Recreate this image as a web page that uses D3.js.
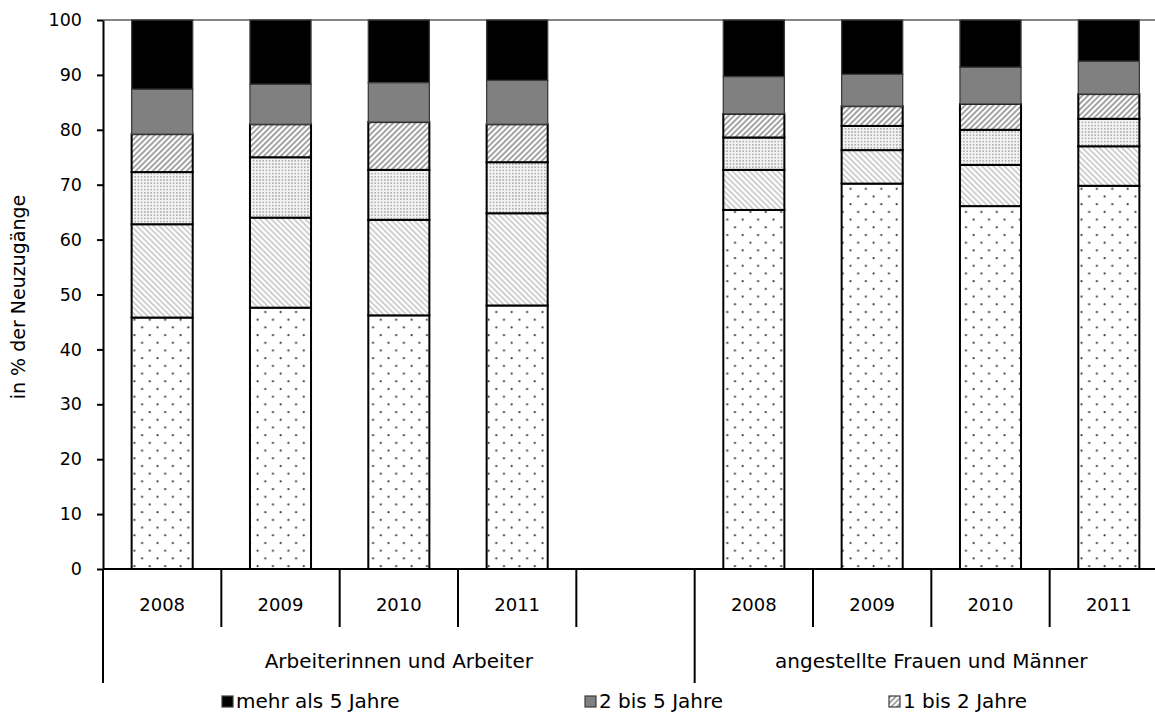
<!DOCTYPE html>
<html>
<head>
<meta charset="utf-8">
<script src="https://cdn.jsdelivr.net/npm/d3@7"></script>
<style>
  body { margin: 0; background: #fff; }
  svg { display: block; }
  text { font-family: "DejaVu Sans", sans-serif; fill: #000; }
</style>
</head>
<body>
<svg id="chart" width="1155" height="718"></svg>
<script>
// ---- data -------------------------------------------------------------
const groups = ["Arbeiterinnen und Arbeiter", "angestellte Frauen und Männer"];
const years = ["2008", "2009", "2010", "2011"];
const yTicks = [0, 10, 20, 30, 40, 50, 60, 70, 80, 90, 100];

// stacked from bottom to top; each array: Arbeiter 2008–2011, Angestellte 2008–2011
const seriesNames = ["bis 3 Monate", "3 bis 6 Monate", "6 Monate bis 1 Jahr",
                     "1 bis 2 Jahre", "2 bis 5 Jahre", "mehr als 5 Jahre"];
const bis3Monate      = [45.8, 47.6, 46.2, 48.0, 65.4, 70.2, 66.1, 69.8];
const monate3bis6     = [17.0, 16.4, 17.4, 16.8,  7.3,  6.1,  7.5,  7.2];
const monate6bisJahr1 = [ 9.5, 11.0,  9.1,  9.3,  5.9,  4.4,  6.4,  5.0];
const jahre1bis2      = [ 6.9,  6.0,  8.7,  6.9,  4.3,  3.6,  4.7,  4.5];
const jahre2bis5      = [ 8.2,  7.3,  7.2,  8.0,  6.8,  5.8,  6.7,  6.0];
const mehrAls5        = [12.6, 11.7, 11.4, 11.0, 10.3,  9.9,  8.6,  7.5];
const seriesValues = [bis3Monate, monate3bis6, monate6bisJahr1, jahre1bis2, jahre2bis5, mehrAls5];

// legend entries shown in the first legend row
const legendItems = ["mehr als 5 Jahre", "2 bis 5 Jahre", "1 bis 2 Jahre"];

// ---- layout -----------------------------------------------------------
const svg = d3.select("#chart");
const plot = { left: 103, right: 1168, top: 20, bottom: 569 };

// category slots: four years per group, plus one empty slot closing the first group
const slots = [];
years.forEach(yr => slots.push({ key: "0-" + yr, group: 0, year: yr }));
slots.push({ key: "0-leer", group: 0, year: "" });
years.forEach(yr => slots.push({ key: "1-" + yr, group: 1, year: yr }));

const rows = [];
slots.forEach(s => {
  if (s.year === "") return;
  const idx = s.group * years.length + years.indexOf(s.year);
  const row = { key: s.key };
  seriesNames.forEach((n, i) => row[n] = seriesValues[i][idx]);
  rows.push(row);
});

const x = d3.scaleBand().domain(slots.map(s => s.key)).range([plot.left, plot.right]).padding(0);
const y = d3.scaleLinear().domain([0, 100]).range([plot.bottom, plot.top]);
const barW = x.bandwidth() * 0.516;

// ---- fill patterns ----------------------------------------------------
const defs = svg.append("defs");
function stripes(id, angle, color, w) {
  const p = defs.append("pattern").attr("id", id).attr("patternUnits", "userSpaceOnUse")
    .attr("width", 4).attr("height", 4).attr("patternTransform", `rotate(${angle})`);
  p.append("rect").attr("width", 4).attr("height", 4).attr("fill", "#fff");
  p.append("rect").attr("width", w).attr("height", 4).attr("fill", color);
}
{
  const p = defs.append("pattern").attr("id", "pat-sparse").attr("patternUnits", "userSpaceOnUse")
    .attr("width", 15.4).attr("height", 15.4);
  p.append("rect").attr("width", 15.4).attr("height", 15.4).attr("fill", "#fff");
  p.append("circle").attr("cx", 3.5).attr("cy", 4).attr("r", 1.1).attr("fill", "#3a3a3a");
  p.append("circle").attr("cx", 11.2).attr("cy", 11.7).attr("r", 1.1).attr("fill", "#3a3a3a");
}
stripes("pat-back", -45, "#c6c6c6", 1.6);
{
  const p = defs.append("pattern").attr("id", "pat-fine").attr("patternUnits", "userSpaceOnUse")
    .attr("width", 3.2).attr("height", 3.2);
  p.append("rect").attr("width", 3.2).attr("height", 3.2).attr("fill", "#f2f2f2");
  p.append("rect").attr("width", 1.6).attr("height", 1.6).attr("fill", "#b0b0b0");
}
stripes("pat-fwd", 45, "#9a9a9a", 1.8);

const fills = ["url(#pat-sparse)", "url(#pat-back)", "url(#pat-fine)", "url(#pat-fwd)", "#808080", "#000000"];
const strokes = ["#000", "#000", "#000", "#000", "#3c3c3c", "#3c3c3c"];
const strokeW = [2, 2, 2, 2, 1.3, 1.3];
const fillOf = d3.scaleOrdinal().domain(seriesNames).range(fills);

// ---- top gridline -----------------------------------------------------
svg.append("line")
  .attr("x1", plot.left).attr("x2", plot.right)
  .attr("y1", y(100)).attr("y2", y(100))
  .attr("stroke", "#868686").attr("stroke-width", 2);

// ---- bars -------------------------------------------------------------
const stacked = d3.stack().keys(seriesNames)(rows);
svg.append("g").selectAll("g").data(stacked).join("g")
  .each(function(layer, i) {
    d3.select(this).selectAll("rect").data(layer).join("rect")
      .attr("x", d => x(d.data.key) + (x.bandwidth() - barW) / 2)
      .attr("width", barW)
      .attr("y", d => y(d[1]))
      .attr("height", d => y(d[0]) - y(d[1]))
      .attr("fill", fillOf(layer.key))
      .attr("stroke", strokes[i])
      .attr("stroke-width", strokeW[i]);
  });

// ---- y axis -----------------------------------------------------------
const yAxis = svg.append("g")
  .attr("transform", `translate(${plot.left},0)`)
  .call(d3.axisLeft(y).tickValues(yTicks).tickSize(6).tickSizeOuter(0).tickPadding(15));
yAxis.select(".domain").attr("stroke", "#000").attr("stroke-width", 2);
yAxis.selectAll(".tick line").attr("stroke", "#000").attr("stroke-width", 2);
yAxis.selectAll(".tick text").attr("font-size", 17.5).attr("font-family", "DejaVu Sans, sans-serif").attr("fill", "#000");

svg.append("text")
  .attr("transform", `translate(19,297) rotate(-90)`)
  .attr("text-anchor", "middle").attr("dominant-baseline", "middle")
  .attr("font-size", 19)
  .text("in % der Neuzugänge");

// ---- x axis (two-level categories) -----------------------------------
svg.append("line")
  .attr("x1", plot.left).attr("x2", plot.right)
  .attr("y1", plot.bottom).attr("y2", plot.bottom)
  .attr("stroke", "#000").attr("stroke-width", 2);

const groupStart = g => x(slots.find(s => s.group === g).key);
const groupEdges = [groupStart(0), groupStart(1), plot.right];

// short dividers between years
svg.append("g").selectAll("line")
  .data(slots.filter((s, i) => i > 0 && slots[i - 1].group === s.group))
  .join("line")
  .attr("x1", d => x(d.key)).attr("x2", d => x(d.key))
  .attr("y1", plot.bottom).attr("y2", 627)
  .attr("stroke", "#000").attr("stroke-width", 2);

// long dividers between groups
svg.append("g").selectAll("line").data(groupEdges).join("line")
  .attr("x1", d => d).attr("x2", d => d)
  .attr("y1", plot.bottom).attr("y2", 683)
  .attr("stroke", "#000").attr("stroke-width", 2);

svg.append("g").selectAll("text").data(slots.filter(s => s.year !== "")).join("text")
  .attr("x", d => x(d.key) + x.bandwidth() / 2)
  .attr("y", 606)
  .attr("text-anchor", "middle").attr("dominant-baseline", "middle")
  .attr("font-size", 18)
  .text(d => d.year);

svg.append("g").selectAll("text").data(groups).join("text")
  .attr("x", (d, i) => (groupEdges[i] + groupEdges[i + 1]) / 2)
  .attr("y", 662)
  .attr("text-anchor", "middle").attr("dominant-baseline", "middle")
  .attr("font-size", 20)
  .text(d => d);

// ---- legend -----------------------------------------------------------
const legendX = [222, 585, 889];
const lg = svg.append("g").selectAll("g").data(legendItems).join("g")
  .attr("transform", (d, i) => `translate(${legendX[i]},702)`);
lg.append("rect")
  .attr("x", 0).attr("y", -6).attr("width", 11).attr("height", 11)
  .attr("fill", d => fillOf(d))
  .attr("stroke", "#3c3c3c").attr("stroke-width", 1.2);
lg.append("text")
  .attr("x", 14).attr("y", 0)
  .attr("dominant-baseline", "middle")
  .attr("font-size", 20)
  .text(d => d);
</script>
</body>
</html>
